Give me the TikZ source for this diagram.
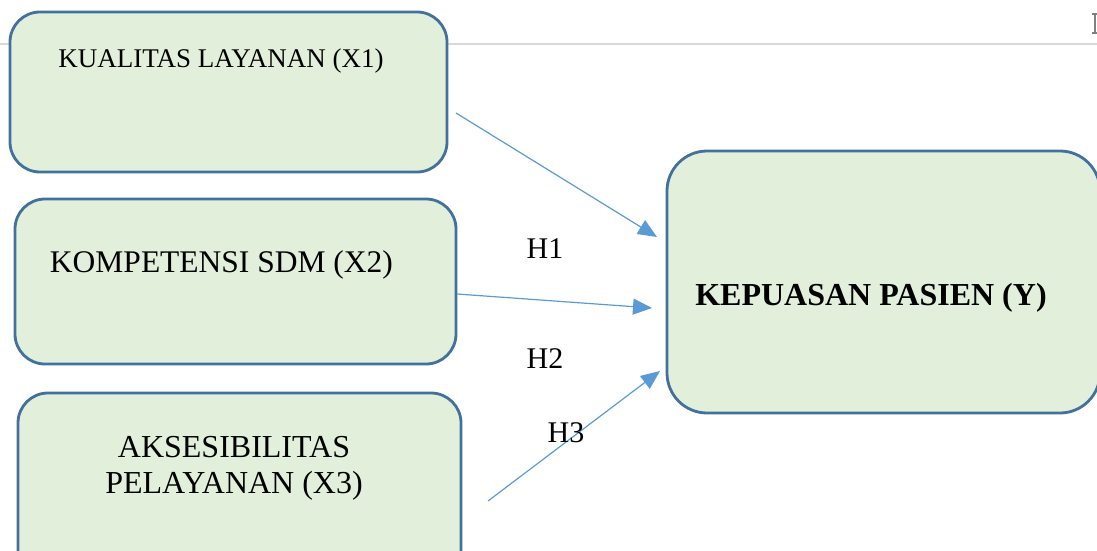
\documentclass[tikz,border=0pt]{standalone}
\usepackage{fontspec}
\setmainfont{Liberation Serif}
\usetikzlibrary{arrows.meta}
\definecolor{boxfill}{RGB}{226,239,218}
\definecolor{boxline}{RGB}{65,113,156}
\definecolor{arrowblue}{RGB}{91,155,213}
\definecolor{rulegray}{RGB}{217,217,217}
\tikzset{
  box/.style={draw=boxline, fill=boxfill, line width=2.8pt, rounded corners=30pt, inner sep=0pt, outer sep=0pt},
  boxtext/.style={anchor=base, inner sep=0pt, text=black},
  hlabel/.style={anchor=base, inner sep=0pt, text=black, font=\fontsize{30}{36}\selectfont},
  link/.style={draw=arrowblue, line width=1.2pt, -{Triangle[length=19pt,width=16pt]}}
}
\begin{document}
\begin{tikzpicture}[x=1pt,y=-1pt]
\useasboundingbox (0,0) rectangle (1097,551);
\clip (0,0) rectangle (1097,551);
% header rule and cut-off glyph
\draw[rulegray, line width=2pt] (0,44) -- (1097,44);
\draw[gray, line width=1.2pt] (1092,14) -- (1097,14) (1095,14) -- (1095,33) (1092,33) -- (1097,33);
% boxes
\node[box, minimum width=437pt, minimum height=160pt] (x1) at (228.5,92) {};
\node[box, minimum width=441pt, minimum height=165pt] (x2) at (235.5,281.5) {};
\node[box, minimum width=443pt, minimum height=207pt] (x3) at (239.5,496.5) {};
\node[box, rounded corners=40pt, minimum width=433pt, minimum height=262pt] (y) at (883.5,282) {};
% texts
\node[boxtext, font=\fontsize{27}{32}\selectfont] (t1) at (221,67) {KUALITAS LAYANAN (X1)};
\node[boxtext, font=\fontsize{31.5}{38}\selectfont] (t2) at (221.5,272) {KOMPETENSI SDM (X2)};
\node[boxtext, font=\fontsize{32}{36}\selectfont] (t3a) at (234,457) {AKSESIBILITAS};
\node[boxtext, font=\fontsize{32}{36}\selectfont] (t3b) at (234,493) {PELAYANAN (X3)};
\node[boxtext, font=\bfseries\fontsize{32}{38}\selectfont] (ty) at (871,305) {KEPUASAN PASIEN (Y)};
% arrows
\coordinate (a1s) at (456,113);
\coordinate (a1e) at (657,237);
\coordinate (a2s) at (457,294);
\coordinate (a2e) at (652,308);
\coordinate (a3s) at (488,501);
\coordinate (a3e) at (660,371);
\draw[link] (a1s) -- (a1e);
\draw[link] (a2s) -- (a2e);
\draw[link] (a3s) -- (a3e);
% hypothesis labels
\node[hlabel] (h1) at (545,258) {H1};
\node[hlabel] (h2) at (545,368) {H2};
\node[hlabel] (h3) at (566,442) {H3};
\end{tikzpicture}
\end{document}
